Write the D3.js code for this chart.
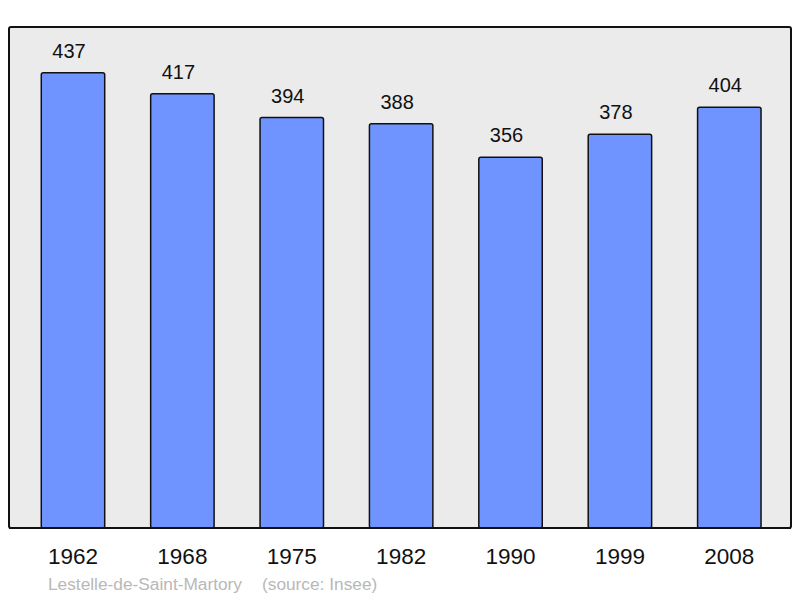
<!DOCTYPE html>
<html><head><meta charset="utf-8">
<script src="https://cdn.jsdelivr.net/npm/d3@7"></script>
<style>body{margin:0;background:#fff}svg{display:block}</style>
</head><body>
<svg id="c" width="800" height="598"></svg>
<script>
const years = ["1962","1968","1975","1982","1990","1999","2008"];
const population = [437,417,394,388,356,378,404];
const commune = "Lestelle-de-Saint-Martory";
const source = "(source: Insee)";

const svg = d3.select("#c");
const frame = {x0:9, y0:27, x1:791, y1:528};
const font = "Liberation Sans, Arial, sans-serif";

svg.append("rect").attr("x",frame.x0).attr("y",frame.y0)
  .attr("width",frame.x1-frame.x0).attr("height",frame.y1-frame.y0)
  .attr("rx",2).attr("fill","#ebebeb").attr("stroke","#111").attr("stroke-width",2);

const x = d3.scaleBand().domain(years).range([18.3, 784]).paddingInner(0.42).paddingOuter(0.21);
const y = d3.scaleLinear().domain([0, 481]).range([frame.y1, frame.y0]);

const g = svg.append("g");
g.selectAll("rect.bar").data(years).join("rect").attr("class","bar")
  .attr("x",d=>x(d)).attr("width",x.bandwidth())
  .attr("y",(d,i)=>y(population[i])).attr("height",(d,i)=>y(0)-y(population[i]))
  .attr("rx",2).attr("fill","#7094ff").attr("stroke","#111").attr("stroke-width",1.5);

g.selectAll("text.val").data(years).join("text").attr("class","val")
  .attr("x",d=>x(d)+x.bandwidth()/2-4).attr("y",(d,i)=>y(population[i])-15)
  .attr("text-anchor","middle").attr("font-family",font).attr("font-size",20).attr("fill","#111")
  .text((d,i)=>population[i]);

svg.append("line").attr("x1",frame.x0).attr("x2",frame.x1).attr("y1",frame.y1).attr("y2",frame.y1)
  .attr("stroke","#111").attr("stroke-width",2);

const xAxis = svg.append("g").attr("transform",`translate(0,${frame.y1})`)
  .call(d3.axisBottom(x).tickSize(0).tickPadding(0));
xAxis.select(".domain").remove();
xAxis.selectAll("text").attr("dy",null).attr("y",36).attr("font-family",font).attr("font-size",22.5).attr("fill","#111");

svg.append("text").attr("x",48).attr("y",590).attr("font-family",font).attr("font-size",17.3).attr("fill","#b8b8b8").text(commune);
svg.append("text").attr("x",262).attr("y",590).attr("font-family",font).attr("font-size",17.3).attr("fill","#b8b8b8").text(source);
</script>
</body></html>
